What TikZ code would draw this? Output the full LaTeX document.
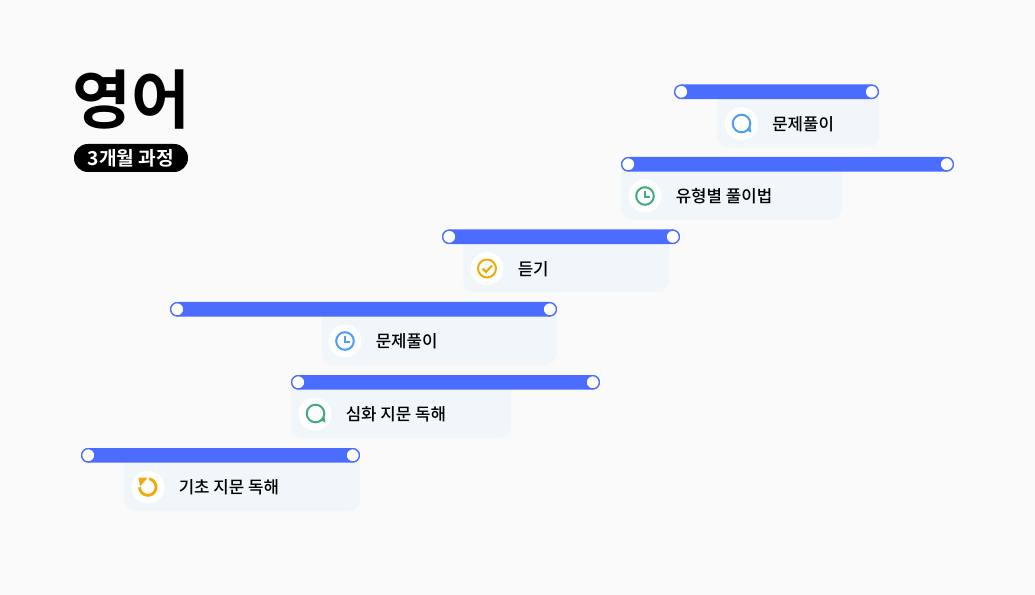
\documentclass[tikz,border=0pt]{standalone}
\usepackage{fontspec}
\setmainfont{Noto Sans CJK KR}
\newfontfamily\krmed{Noto Sans CJK KR Medium}
\newfontfamily\krbold{Noto Sans CJK KR Bold}
\definecolor{bgc}{HTML}{FAFAFA}
\definecolor{panelc}{HTML}{F1F6FB}
\definecolor{barc}{HTML}{4A6CFF}
\definecolor{bluei}{HTML}{4F9DF5}
\definecolor{greeni}{HTML}{41AB7C}
\definecolor{yellowi}{HTML}{EEAB0C}
\tikzset{
  panel/.style={fill=panelc,draw=none},
  barbox/.style={draw=none,fill=barc,rounded corners=5.4pt},
  knob/.style={circle,draw=barc,fill=white,line width=0.9pt,minimum size=13.2*0.75pt,inner sep=0pt},
  iconbg/.style={circle,fill=white,minimum size=33*0.75pt,inner sep=0pt},
  lbl/.style={anchor=west,inner sep=0pt,font=\krmed\fontsize{12.6pt}{14pt}\selectfont,text=black},
  ic/.style={line width=1.5pt,line cap=butt},
}
% #1 id, #2 bar left, #3 bar right, #4 bar top, #5 panel left, #6 panel right, #7 icon x, #8 text
\newcommand{\lane}[8]{%
  \fill[panel,rounded corners=9pt] (#5,#4+5) -- (#5,#4+63) -- (#6,#4+63) -- (#6,#4+5) -- cycle;
  \fill[barbox] (#2,#4) rectangle (#3,#4+14.6);
  \node[knob] (k#1l) at (#2+7.3,#4+7.3) {};
  \node[knob] (k#1r) at (#3-7.3,#4+7.3) {};
  \node[iconbg] (i#1) at (#7,#4+39) {};
  \node[lbl] (t#1) at (#7+30.5,#4+39.3) {#8};
}
\newcommand{\iconchat}[3]{% centre x,y,colour
  \draw[ic,draw=#3] (#1,#2) circle (8.8);
  \fill[#3] (#1+4.5,#2+6.8) -- (#1+10,#2+9) -- (#1+8.5,#2+2.5) -- cycle;
}
\newcommand{\iconclock}[3]{%
  \draw[ic,draw=#3] (#1,#2) circle (8.8);
  \draw[line width=1.3pt,draw=#3] (#1,#2-5) -- (#1,#2+0.8) -- (#1+5,#2+0.8);
}
\begin{document}
\begin{tikzpicture}[x=0.75pt,y=-0.75pt]
\useasboundingbox (0,0) rectangle (1035,595);
\fill[bgc] (0,0) rectangle (1035,595);

\node[anchor=center,inner sep=0pt,font=\krbold\fontsize{48pt}{52pt}\selectfont] (title) at (131.5,100) {영어};
\node[fill=black,rounded corners=10.4pt,minimum width=114*0.75pt,minimum height=28*0.75pt,inner sep=0pt,text=white,font=\krbold\fontsize{14.4pt}{16pt}\selectfont] (sub) at (131,158) {3개월 과정};

\lane{a}{674}{879}{84.5}{717}{879}{741.5}{문제풀이}
\iconchat{741.5}{123.5}{bluei}
\lane{b}{621}{954}{157}{621}{842}{645}{유형별 풀이법}
\iconclock{645}{196}{greeni}
\lane{c}{442}{680}{229.5}{463}{669}{487}{듣기}
\draw[ic,draw=yellowi] (487,268.5) circle (9);
\draw[line width=1.6pt,draw=yellowi] (482.5,268.5) -- (486,272) -- (492,265.5);
\lane{d}{170}{557}{302}{322}{557}{345}{문제풀이}
\iconclock{345}{341}{bluei}
\lane{e}{291}{600}{375}{291}{511}{315}{심화 지문 독해}
\iconchat{315.5}{413.5}{greeni}
\lane{f}{81}{360}{448}{124}{360}{148}{기초 지문 독해}
\draw[line width=2.2pt,draw=yellowi] plot[domain=-80:178,samples=45,smooth] ({147.8+8.2*cos(\x)},{487+8.2*sin(\x)});
\fill[yellowi] (138.5,477.5) -- (147.5,477.8) -- (140,486.5) -- cycle;
\end{tikzpicture}
\end{document}
